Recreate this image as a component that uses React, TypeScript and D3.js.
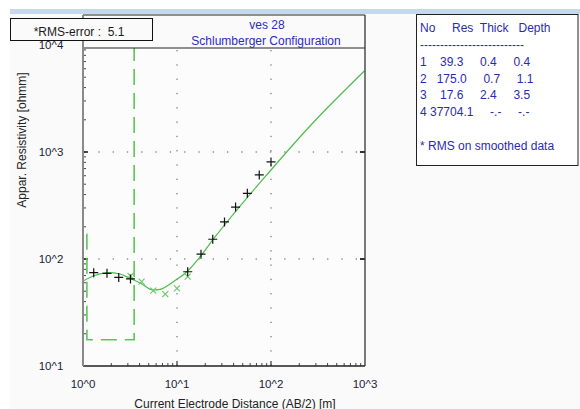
import React from "react";
import * as d3 from "d3";

// Field data (+)
const fieldAB = [1.3, 1.8, 2.4, 3.2, 13, 18, 24, 32, 42, 56, 75, 100];
const fieldRho = [74.5, 73.5, 67.3, 65.2, 76, 111, 153, 222, 306, 411, 610, 807];
// Smoothed data (x)
const smoothAB = [3.2, 4.2, 5.6, 7.5, 10, 13];
const smoothRho = [69.3, 61.4, 50.6, 47.0, 53.2, 68.5];
// Model response curve
const curveAB = [1.0, 1.34, 1.85, 2.48, 3.16, 4.24, 5.51, 6.6, 9.13, 13.0, 17.6, 24.3, 100, 260, 984];
const curveRho = [62.2, 70.1, 74.5, 72.4, 66.0, 58.3, 51.3, 52.1, 61.4, 77.3, 105, 153, 679, 1750, 5716];
// Layer model
const layerNo = [1, 2, 3, 4];
const layerRes = [39.3, 175.0, 17.6, 37704.1];
const layerThick = [0.4, 0.7, 2.4];
const layerDepth = [0.4, 1.1, 3.5];
// Axis tick labels
const xTickVals = [1, 10, 100, 1000];
const xTickLabels = ["10^0", "10^1", "10^2", "10^3"];
const yTickVals = [10, 100, 1000, 10000];
const yTickLabels = ["10^1", "10^2", "10^3", "10^4"];
const rmsError = 5.1;

const L = 83, R = 365, T = 48, B = 366;
const FONT = "Liberation Sans, Arial, sans-serif";

export default function App() {
  const x = d3.scaleLog().domain([1, 1000]).range([L, R]);
  const y = d3.scaleLog().domain([10, 10000]).range([B, 45]);

  const minorX: number[] = [];
  for (let dec = 1; dec < 1000; dec *= 10) for (let k = 2; k <= 9; k++) minorX.push(dec * k);
  const minorY: number[] = [];
  for (let dec = 10; dec < 10000; dec *= 10) for (let k = 2; k <= 9; k++) minorY.push(dec * k);

  const curvePts = curveAB.map((a, i) => [a, curveRho[i]] as [number, number]);
  const curvePath = d3
    .line<[number, number]>()
    .x((d) => x(d[0]))
    .y((d) => y(d[1]))
    .curve(d3.curveMonotoneX)(curvePts);

  // step model path
  const step: [number, number][] = [[0.1, layerRes[0]]];
  layerDepth.forEach((dp, i) => {
    step.push([dp, layerRes[i]]);
    step.push([dp, layerRes[i + 1]]);
  });
  step.push([10000, layerRes[layerRes.length - 1]]);
  const stepPath = d3
    .line<[number, number]>()
    .x((d) => x(d[0]))
    .y((d) => y(d[1]))(step);

  const fmt = (v: number) => v.toFixed(1);
  const pad = (s: string, n: number) => " ".repeat(Math.max(0, n - s.length)) + s;
  const rows = layerNo.map((n, i) => {
    const res = fmt(layerRes[i]);
    const th = i < layerThick.length ? fmt(layerThick[i]) : "-.-";
    const dp = i < layerDepth.length ? fmt(layerDepth[i]) : "-.-";
    const thS = th === "-.-" ? "     -.-" : pad(th, 8);
    const dpS = dp === "-.-" ? "     -.-" : pad(dp, 8);
    return `${n}${res.length >= 7 ? " " + res : pad(res, 8)}${thS}${dpS}`;
  });

  const green = "#4cbc4c";
  const gridColor = "#555";

  return (
    <svg
      width={580}
      height={409}
      style={{ position: "fixed", left: 0, top: 0 }}
      fontFamily={FONT}
    >
      <defs>
        <clipPath id="plotClip">
          <rect x={L} y={T} width={R - L} height={B - T} />
        </clipPath>
      </defs>
      <rect x={0} y={0} width={580} height={409} fill="#ffffff" />
      <rect x={10} y={14} width={570} height={395} fill="#fafafa" />
      <rect x={10} y={9} width={570} height={5} fill="#c6d8ee" />

      {/* plot background */}
      <rect x={L} y={T} width={R - L} height={B - T} fill="#fcfcfc" />

      {/* grid dotted */}
      {[10, 100].map((v) => (
        <line key={"gx" + v} x1={x(v)} x2={x(v)} y1={T + 2} y2={B} stroke={gridColor} strokeWidth={1} strokeDasharray="1.3,13" />
      ))}
      {[100, 1000].map((v) => (
        <line key={"gy" + v} x1={L + 1} x2={R} y1={y(v)} y2={y(v)} stroke={gridColor} strokeWidth={1} strokeDasharray="1.3,13" />
      ))}

      {/* minor ticks */}
      {minorY.map((v) => (
        <line key={"my" + v} x1={L} x2={L + 3} y1={y(v)} y2={y(v)} stroke="#444" strokeWidth={1} />
      ))}
      {minorX.map((v) => (
        <line key={"mx" + v} x1={x(v)} x2={x(v)} y1={B} y2={B - 3} stroke="#444" strokeWidth={1} />
      ))}
      {[100, 1000].map((v) => (
        <g key={"Mj" + v}>
          <line x1={L} x2={L + 5} y1={y(v)} y2={y(v)} stroke="#111" strokeWidth={1.5} />
          <line x1={R - 5} x2={R} y1={y(v)} y2={y(v)} stroke="#333" strokeWidth={2} />
        </g>
      ))}
      {[10, 100].map((v) => (
        <line key={"Mx" + v} x1={x(v)} x2={x(v)} y1={B} y2={B - 5} stroke="#111" strokeWidth={1} />
      ))}

      <g clipPath="url(#plotClip)">
        <path d={stepPath || ""} fill="none" stroke="#5cc45c" strokeWidth={1.6} strokeDasharray="16,8" />
        <path d={curvePath || ""} fill="none" stroke={green} strokeWidth={1.2} />
        {smoothAB.map((a, i) => {
          const cx = x(a), cy = y(smoothRho[i]);
          return (
            <path key={"s" + i} d={`M${cx - 3},${cy - 3}L${cx + 3},${cy + 3}M${cx - 3},${cy + 3}L${cx + 3},${cy - 3}`} stroke="#6cc86c" strokeWidth={1.2} fill="none" />
          );
        })}
        {fieldAB.map((a, i) => {
          const cx = x(a), cy = y(fieldRho[i]);
          return (
            <path key={"f" + i} d={`M${cx - 4.5},${cy}L${cx + 4.5},${cy}M${cx},${cy - 4.5}L${cx},${cy + 4.5}`} stroke="#111" strokeWidth={1.2} fill="none" />
          );
        })}
      </g>

      {/* frame */}
      <line x1={L} x2={R} y1={T} y2={T} stroke="#222" strokeWidth={1} />
      <line x1={L} x2={R} y1={15} y2={15} stroke="#222" strokeWidth={1} />
      <line x1={R} x2={R} y1={15} y2={B} stroke="#333" strokeWidth={1.3} />
      <line x1={L} x2={R} y1={B} y2={B} stroke="#222" strokeWidth={1.3} />
      <line x1={L} x2={L} y1={15} y2={B} stroke="#8a8a8a" strokeWidth={2} />

      {/* RMS box */}
      <rect x={10.5} y={18.5} width={142} height={22} fill="#fafafa" stroke="#111" strokeWidth={1} />
      <text x={79} y={35.5} textAnchor="middle" fontSize={12} fill="#1a1a1a" xmlSpace="preserve">
        {`*RMS-error :  ${rmsError.toFixed(1)}`}
      </text>

      {/* title */}
      <text x={267} y={29} textAnchor="middle" fontSize={12} fill="#2b2bbf">ves 28</text>
      <text x={266} y={45} textAnchor="middle" fontSize={12} fill="#2b2bbf">Schlumberger Configuration</text>

      {/* y tick labels */}
      {yTickVals.map((v, i) => (
        <text key={"yl" + v} x={51} y={y(v) + 4} textAnchor="middle" fontSize={11.5} fill="#1c1c34">
          {yTickLabels[i]}
        </text>
      ))}
      {xTickVals.map((v, i) => (
        <text key={"xl" + v} x={x(v)} y={387.5} textAnchor="middle" fontSize={11.5} fill="#1c1c34">
          {xTickLabels[i]}
        </text>
      ))}

      <text x={235} y={407.5} textAnchor="middle" fontSize={12} fill="#222">
        Current Electrode Distance (AB/2) [m]
      </text>
      <text transform="translate(26,140) rotate(-90)" textAnchor="middle" fontSize={12} fill="#222">
        Appar. Resistivity [ohmm]
      </text>

      {/* table */}
      <rect x={416.5} y={14.5} width={161.5} height={151} fill="#ffffff" stroke="#222" strokeWidth={1} />
      <text x={420} y={32} fontSize={12} fill="#2b2bb0" xmlSpace="preserve">{"No     Res  Thick   Depth"}</text>
      <text x={420} y={49} fontSize={12} fill="#2b2bb0" xmlSpace="preserve">{"--------------------------"}</text>
      {rows.map((r, i) => (
        <text key={"r" + i} x={420} y={66 + i * 16.7} fontSize={12} fill="#2b2bb0" xmlSpace="preserve">
          {r}
        </text>
      ))}
      <text x={420} y={150} fontSize={12} fill="#2b2bb0">* RMS on smoothed data</text>
    </svg>
  );
}
